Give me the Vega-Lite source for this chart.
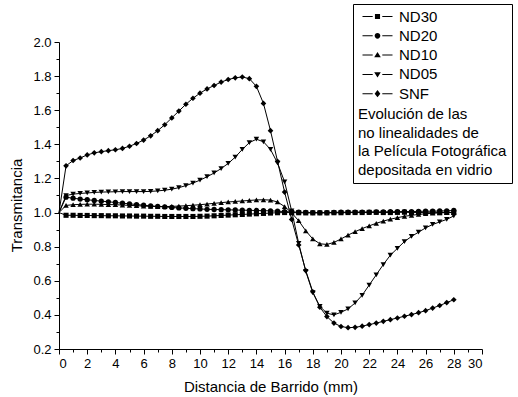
{
  "$schema": "https://vega.github.io/schema/vega-lite/v6.json",
  "width": 423,
  "height": 307,
  "autosize": {"type": "none"},
  "padding": {"left": 59, "top": 42, "right": 36, "bottom": 48},
  "config": {
    "font": "Liberation Sans",
    "view": {"stroke": null},
    "axis": {"grid": false, "domainColor": "black", "tickColor": "black", "labelColor": "black", "titleColor": "black", "labelFontSize": 13, "titleFontSize": 15, "titleFontWeight": "normal", "domainWidth": 1, "tickWidth": 1}
  },
  "data": {"values": [
    {"x": 0, "ND30": 1.0, "ND20": 1.0, "ND10": 1.0, "ND05": 1.0, "SNF": 1.0},
    {"x": 0.5, "ND30": 0.984, "ND20": 1.09, "ND10": 1.042, "ND05": 1.10, "SNF": 1.274},
    {"x": 1, "ND30": 0.984, "ND20": 1.084, "ND10": 1.046, "ND05": 1.108, "SNF": 1.305},
    {"x": 1.5, "ND30": 0.983, "ND20": 1.079, "ND10": 1.048, "ND05": 1.112, "SNF": 1.32},
    {"x": 2, "ND30": 0.983, "ND20": 1.075, "ND10": 1.049, "ND05": 1.115, "SNF": 1.338},
    {"x": 2.5, "ND30": 0.982, "ND20": 1.071, "ND10": 1.049, "ND05": 1.118, "SNF": 1.35},
    {"x": 3, "ND30": 0.982, "ND20": 1.067, "ND10": 1.048, "ND05": 1.12, "SNF": 1.357},
    {"x": 3.5, "ND30": 0.981, "ND20": 1.063, "ND10": 1.047, "ND05": 1.121, "SNF": 1.363},
    {"x": 4, "ND30": 0.981, "ND20": 1.059, "ND10": 1.046, "ND05": 1.122, "SNF": 1.368},
    {"x": 4.5, "ND30": 0.98, "ND20": 1.055, "ND10": 1.044, "ND05": 1.123, "SNF": 1.376},
    {"x": 5, "ND30": 0.98, "ND20": 1.051, "ND10": 1.042, "ND05": 1.123, "SNF": 1.389},
    {"x": 5.5, "ND30": 0.979, "ND20": 1.047, "ND10": 1.04, "ND05": 1.123, "SNF": 1.405},
    {"x": 6, "ND30": 0.979, "ND20": 1.043, "ND10": 1.038, "ND05": 1.123, "SNF": 1.425},
    {"x": 6.5, "ND30": 0.978, "ND20": 1.039, "ND10": 1.036, "ND05": 1.124, "SNF": 1.45},
    {"x": 7, "ND30": 0.978, "ND20": 1.036, "ND10": 1.035, "ND05": 1.127, "SNF": 1.48},
    {"x": 7.5, "ND30": 0.977, "ND20": 1.033, "ND10": 1.035, "ND05": 1.131, "SNF": 1.515},
    {"x": 8, "ND30": 0.977, "ND20": 1.03, "ND10": 1.036, "ND05": 1.137, "SNF": 1.555},
    {"x": 8.5, "ND30": 0.977, "ND20": 1.027, "ND10": 1.038, "ND05": 1.146, "SNF": 1.595},
    {"x": 9, "ND30": 0.977, "ND20": 1.025, "ND10": 1.04, "ND05": 1.158, "SNF": 1.635},
    {"x": 9.5, "ND30": 0.977, "ND20": 1.023, "ND10": 1.043, "ND05": 1.173, "SNF": 1.67},
    {"x": 10, "ND30": 0.978, "ND20": 1.021, "ND10": 1.046, "ND05": 1.19, "SNF": 1.70},
    {"x": 10.5, "ND30": 0.979, "ND20": 1.019, "ND10": 1.05, "ND05": 1.21, "SNF": 1.725},
    {"x": 11, "ND30": 0.981, "ND20": 1.018, "ND10": 1.054, "ND05": 1.232, "SNF": 1.745},
    {"x": 11.5, "ND30": 0.983, "ND20": 1.017, "ND10": 1.058, "ND05": 1.258, "SNF": 1.765},
    {"x": 12, "ND30": 0.985, "ND20": 1.016, "ND10": 1.062, "ND05": 1.288, "SNF": 1.78},
    {"x": 12.5, "ND30": 0.987, "ND20": 1.015, "ND10": 1.065, "ND05": 1.325, "SNF": 1.79},
    {"x": 13, "ND30": 0.989, "ND20": 1.014, "ND10": 1.068, "ND05": 1.37, "SNF": 1.795},
    {"x": 13.5, "ND30": 0.991, "ND20": 1.013, "ND10": 1.071, "ND05": 1.41, "SNF": 1.785},
    {"x": 14, "ND30": 0.993, "ND20": 1.012, "ND10": 1.074, "ND05": 1.43, "SNF": 1.74},
    {"x": 14.5, "ND30": 0.995, "ND20": 1.011, "ND10": 1.075, "ND05": 1.415, "SNF": 1.64},
    {"x": 15, "ND30": 0.997, "ND20": 1.01, "ND10": 1.073, "ND05": 1.37, "SNF": 1.48},
    {"x": 15.5, "ND30": 0.999, "ND20": 1.008, "ND10": 1.062, "ND05": 1.29, "SNF": 1.30},
    {"x": 16, "ND30": 1.0, "ND20": 1.006, "ND10": 1.035, "ND05": 1.18, "SNF": 1.12},
    {"x": 16.5, "ND30": 1.0, "ND20": 1.004, "ND10": 0.998, "ND05": 1.01, "SNF": 0.96},
    {"x": 17, "ND30": 0.999, "ND20": 1.002, "ND10": 0.952, "ND05": 0.82, "SNF": 0.81},
    {"x": 17.5, "ND30": 0.998, "ND20": 1.001, "ND10": 0.893, "ND05": 0.655, "SNF": 0.66},
    {"x": 18, "ND30": 0.998, "ND20": 1.0, "ND10": 0.845, "ND05": 0.53, "SNF": 0.535},
    {"x": 18.5, "ND30": 0.998, "ND20": 1.0, "ND10": 0.817, "ND05": 0.45, "SNF": 0.445},
    {"x": 19, "ND30": 0.998, "ND20": 1.0, "ND10": 0.813, "ND05": 0.41, "SNF": 0.39},
    {"x": 19.5, "ND30": 0.999, "ND20": 1.001, "ND10": 0.825, "ND05": 0.40, "SNF": 0.352},
    {"x": 20, "ND30": 0.999, "ND20": 1.002, "ND10": 0.845, "ND05": 0.415, "SNF": 0.332},
    {"x": 20.5, "ND30": 1.0, "ND20": 1.002, "ND10": 0.868, "ND05": 0.435, "SNF": 0.325},
    {"x": 21, "ND30": 1.0, "ND20": 1.003, "ND10": 0.888, "ND05": 0.47, "SNF": 0.327},
    {"x": 21.5, "ND30": 1.0, "ND20": 1.003, "ND10": 0.906, "ND05": 0.515, "SNF": 0.334},
    {"x": 22, "ND30": 1.001, "ND20": 1.003, "ND10": 0.922, "ND05": 0.575, "SNF": 0.343},
    {"x": 22.5, "ND30": 1.001, "ND20": 1.004, "ND10": 0.937, "ND05": 0.635, "SNF": 0.352},
    {"x": 23, "ND30": 1.0, "ND20": 1.004, "ND10": 0.95, "ND05": 0.695, "SNF": 0.362},
    {"x": 23.5, "ND30": 1.0, "ND20": 1.005, "ND10": 0.961, "ND05": 0.75, "SNF": 0.372},
    {"x": 24, "ND30": 1.001, "ND20": 1.005, "ND10": 0.97, "ND05": 0.79, "SNF": 0.382},
    {"x": 24.5, "ND30": 1.002, "ND20": 1.006, "ND10": 0.978, "ND05": 0.83, "SNF": 0.392},
    {"x": 25, "ND30": 1.0, "ND20": 1.006, "ND10": 0.984, "ND05": 0.86, "SNF": 0.402},
    {"x": 25.5, "ND30": 1.0, "ND20": 1.007, "ND10": 0.989, "ND05": 0.885, "SNF": 0.413},
    {"x": 26, "ND30": 1.001, "ND20": 1.008, "ND10": 0.993, "ND05": 0.91, "SNF": 0.425},
    {"x": 26.5, "ND30": 1.002, "ND20": 1.008, "ND10": 0.996, "ND05": 0.93, "SNF": 0.44},
    {"x": 27, "ND30": 1.0, "ND20": 1.009, "ND10": 0.998, "ND05": 0.945, "SNF": 0.455},
    {"x": 27.5, "ND30": 1.001, "ND20": 1.01, "ND10": 1.0, "ND05": 0.96, "SNF": 0.472},
    {"x": 28, "ND30": 1.0, "ND20": 1.012, "ND10": 1.0, "ND05": 0.98, "SNF": 0.489}
  ]},
  "transform": [{"fold": ["ND30", "ND20", "ND10", "ND05", "SNF"], "as": ["serie", "t"]}],
  "layer": [
    {
      "mark": {"type": "line", "color": "black", "strokeWidth": 1},
      "encoding": {
        "x": {"field": "x", "type": "quantitative", "scale": {"domain": [0, 30], "nice": false, "zero": false},
              "axis": {"orient": "bottom", "values": [0,2,4,6,8,10,12,14,16,18,20,22,24,26,28,30], "tickSize": 5, "labelPadding": 3, "title": "Distancia de Barrido (mm)", "titlePadding": 9}},
        "y": {"field": "t", "type": "quantitative", "scale": {"domain": [0.2, 2.0], "nice": false, "zero": false},
              "axis": {"orient": "left", "values": [0.2,0.4,0.6,0.8,1.0,1.2,1.4,1.6,1.8,2.0], "format": ".1f", "tickSize": 5, "labelPadding": 3, "title": "Transmitancia", "titlePadding": 8, "titleY": 163}},
        "detail": {"field": "serie"}
      }
    },
    {
      "transform": [{"filter": "datum.x > 0 && datum.serie === 'ND30'"}],
      "mark": {"type": "point", "filled": true, "opacity": 1, "size": 26, "shape": "square", "color": "black"},
      "encoding": {
        "x": {"field": "x", "type": "quantitative",
              "axis": {"orient": "bottom", "values": [1,3,5,7,9,11,13,15,17,19,21,23,25,27,29], "tickSize": 3, "labels": false, "domain": false, "title": null}},
        "y": {"field": "t", "type": "quantitative",
              "axis": {"orient": "left", "values": [0.3,0.5,0.7,0.9,1.1,1.3,1.5,1.7,1.9], "tickSize": 3, "labels": false, "domain": false, "title": null}}
      }
    },
    {
      "transform": [{"filter": "datum.x > 0 && datum.serie === 'ND20'"}],
      "mark": {"type": "point", "filled": true, "opacity": 1, "size": 28, "shape": "circle", "color": "black"},
      "encoding": {
        "x": {"field": "x", "type": "quantitative", "axis": null},
        "y": {"field": "t", "type": "quantitative", "axis": null}
      }
    },
    {
      "transform": [{"filter": "datum.x > 0 && datum.serie === 'ND10'"}],
      "mark": {"type": "point", "filled": true, "opacity": 1, "size": 30, "shape": "triangle-up", "color": "black"},
      "encoding": {
        "x": {"field": "x", "type": "quantitative", "axis": null},
        "y": {"field": "t", "type": "quantitative", "axis": null}
      }
    },
    {
      "transform": [{"filter": "datum.x > 0 && datum.serie === 'ND05'"}],
      "mark": {"type": "point", "filled": true, "opacity": 1, "size": 30, "shape": "triangle-down", "color": "black"},
      "encoding": {
        "x": {"field": "x", "type": "quantitative", "axis": null},
        "y": {"field": "t", "type": "quantitative", "axis": null}
      }
    },
    {
      "transform": [{"filter": "datum.x > 0 && datum.serie === 'SNF'"}],
      "mark": {"type": "point", "filled": true, "opacity": 1, "size": 32, "shape": "diamond", "color": "black"},
      "encoding": {
        "x": {"field": "x", "type": "quantitative", "axis": null},
        "y": {"field": "t", "type": "quantitative", "axis": null}
      }
    },
    {
      "transform": [{"filter": "datum.x < 0"}],
      "mark": {"type": "point", "filled": true, "opacity": 1, "size": 36, "color": "black"},
      "encoding": {
        "x": {"field": "x", "type": "quantitative", "axis": null},
        "y": {"field": "t", "type": "quantitative", "axis": null},
        "shape": {"field": "serie", "type": "nominal",
                  "scale": {"domain": ["ND30", "ND20", "ND10", "ND05", "SNF"],
                            "range": ["M-5,-0.17H-1.6V0.17H-5ZM1.6,-0.17H5V0.17H1.6ZM-0.85,-0.85H0.85V0.85H-0.85Z",
                                      "M-5,-0.17H-1.6V0.17H-5ZM1.6,-0.17H5V0.17H1.6ZM-0.95,0A0.95,0.95 0 1,0 0.95,0A0.95,0.95 0 1,0 -0.95,0Z",
                                      "M-5,-0.17H-1.6V0.17H-5ZM1.6,-0.17H5V0.17H1.6ZM0,-1.05L1.1,0.75L-1.1,0.75Z",
                                      "M-5,-0.17H-1.6V0.17H-5ZM1.6,-0.17H5V0.17H1.6ZM0,1.05L1.1,-0.75L-1.1,-0.75Z",
                                      "M-5,-0.17H-1.6V0.17H-5ZM1.6,-0.17H5V0.17H1.6ZM0,-1.2L0.95,0L0,1.2L-0.95,0Z"]},
                  "legend": {
                    "orient": "none", "legendX": 294, "legendY": -38,
                    "title": ["Evolución de las", "no linealidades de", "la Película Fotográfica", "depositada en vidrio"],
                    "titleOrient": "bottom", "titleAnchor": "start", "titleAlign": "left", "titleFontSize": 15, "titleFontWeight": "normal", "titleLineHeight": 18.6, "titlePadding": 5, "titleLimit": 300,
                    "labelFontSize": 15, "labelColor": "black", "titleColor": "black",
                    "strokeColor": "black", "fillColor": "white", "padding": 5,
                    "symbolSize": 36, "symbolOffset": 12, "labelOffset": 14, "rowPadding": 3.3,
                    "symbolFillColor": "black", "symbolOpacity": 1
                  }}
      }
    }
  ],
  "resolve": {"axis": {"x": "independent", "y": "independent"}}
}
